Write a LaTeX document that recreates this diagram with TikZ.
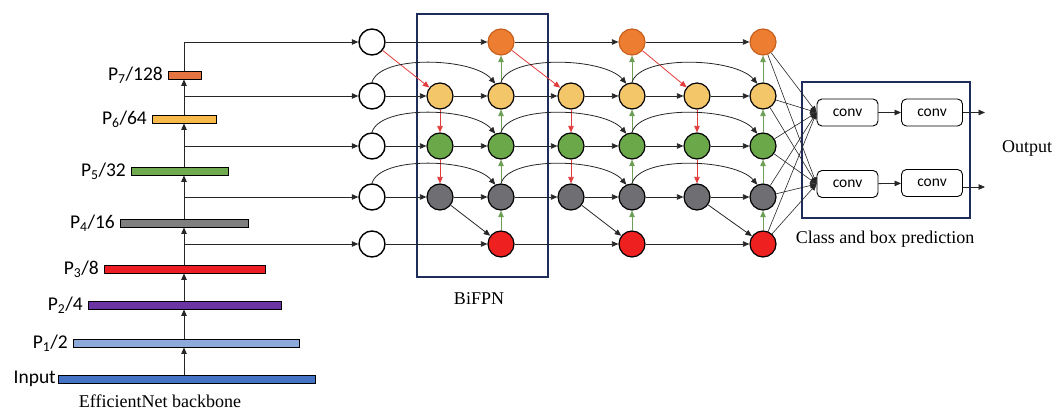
\documentclass[tikz,border=0pt]{standalone}
\usepackage{fontspec}
\setmainfont{Liberation Serif}
\newfontfamily\calfont{Carlito}
\usetikzlibrary{arrows.meta}
\definecolor{cOr}{HTML}{ED7D31}
\definecolor{cOrD}{HTML}{C8601E}
\definecolor{cYe}{HTML}{F4C66A}
\definecolor{cGr}{HTML}{6BA84A}
\definecolor{cGy}{HTML}{6E6E73}
\definecolor{cRe}{HTML}{EE2020}
\definecolor{bOr}{HTML}{E57440}
\definecolor{bYe}{HTML}{F6B94A}
\definecolor{bGr}{HTML}{6FAA4E}
\definecolor{bGy}{HTML}{7F7F7F}
\definecolor{bRe}{HTML}{EE1D23}
\definecolor{bPu}{HTML}{6B36A3}
\definecolor{bLb}{HTML}{8EAADB}
\definecolor{bBl}{HTML}{4472C4}
\definecolor{navy}{HTML}{1F2D5C}
\definecolor{aRe}{HTML}{E23B3B}
\definecolor{aGr}{HTML}{6E9F57}
\tikzset{
  nd/.style={circle, draw=black, line width=1.2pt, minimum size=26pt, inner sep=0pt},
  wn/.style={nd, fill=white, line width=1.4pt},
  on/.style={nd, fill=cOr, draw=cOrD},
  yn/.style={nd, fill=cYe},
  gn/.style={nd, fill=cGr},
  kn/.style={nd, fill=cGy},
  rn/.style={nd, fill=cRe},
  bar/.style={draw=black, line width=0.9pt, minimum height=8pt, inner sep=0pt, anchor=west},
  blab/.style={font=\calfont\fontsize{19.5}{21}\selectfont, anchor=east, inner sep=0pt},
  arr/.style={draw=black!85, line width=0.8pt, -{Triangle[length=6.5pt,width=5.5pt]}},
  thinarr/.style={draw=black!85, line width=0.6pt, -{Triangle[length=6.5pt,width=5.5pt]}},
  redarr/.style={draw=aRe, line width=0.8pt, -{Triangle[length=6.5pt,width=5.5pt]}},
  grarr/.style={draw=aGr, line width=0.9pt, -{Triangle[length=6.5pt,width=5.5pt]}},
  convbox/.style={draw=black, line width=0.9pt, rounded corners=5pt, minimum width=61pt, minimum height=27pt, inner sep=0pt, font=\calfont\fontsize{15.5}{17}\selectfont},
  sertext/.style={font=\fontsize{18}{20}\selectfont, inner sep=0pt},
  fbox/.style={draw=navy, line width=1.2pt}
}
\begin{document}
\begin{tikzpicture}[x=1pt,y=-1pt]
\useasboundingbox (0,0) rectangle (1056,411);
% frames
\draw[fbox] (417,14) rectangle (548,277);
\draw[fbox] (802,82) rectangle (970,218);
% backbone bars
\node[bar, fill=bOr, minimum width=33pt] (b7) at (168,75) {};
\node[bar, fill=bYe, minimum width=64pt] (b6) at (152,119) {};
\node[bar, fill=bGr, minimum width=97pt] (b5) at (131,171) {};
\node[bar, fill=bGy, minimum width=128pt] (b4) at (120,223) {};
\node[bar, fill=bRe, minimum width=161pt] (b3) at (104,269) {};
\node[bar, fill=bPu, minimum width=193pt] (b2) at (88,305) {};
\node[bar, fill=bLb, minimum width=226pt] (b1) at (73,343) {};
\node[bar, fill=bBl, minimum width=257pt] (b0) at (58,379) {};
\node[blab] (l7) at ([xshift=-5pt]b7.west) {P\textsubscript{7}/128};
\node[blab] (l6) at ([xshift=-5pt]b6.west) {P\textsubscript{6}/64};
\node[blab] (l5) at ([xshift=-5pt]b5.west) {P\textsubscript{5}/32};
\node[blab] (l4) at ([xshift=-5pt]b4.west) {P\textsubscript{4}/16};
\node[blab] (l3) at ([xshift=-5pt]b3.west) {P\textsubscript{3}/8};
\node[blab] (l2) at ([xshift=-5pt]b2.west) {P\textsubscript{2}/4};
\node[blab] (l1) at ([xshift=-5pt]b1.west) {P\textsubscript{1}/2};
\node[blab] (l0) at ([xshift=-2pt]b0.west) {Input};
\node[sertext] (effn) at (160,401) {EfficientNet backbone};
\coordinate (spine) at (184,0);
\draw[arr] (spine |- b0.north) -- (spine |- b1.south);
\draw[arr] (spine |- b1.north) -- (spine |- b2.south);
\draw[arr] (spine |- b2.north) -- (spine |- b3.south);
\draw[arr] (spine |- b3.north) -- (spine |- b4.south);
\draw[arr] (spine |- b4.north) -- (spine |- b5.south);
\draw[arr] (spine |- b5.north) -- (spine |- b6.south);
\draw[arr] (spine |- b6.north) -- (spine |- b7.south);
% white input nodes
\node[wn] (w0) at (372,42) {};
\node[wn] (w1) at (372,96) {};
\node[wn] (w2) at (372,146) {};
\node[wn] (w3) at (372,197) {};
\node[wn] (w4) at (372,244) {};
\draw[arr] (spine |- b7.north) -- (spine |- w0) -- (w0);
\draw[arr] (spine |- w1) -- (w1);
\draw[arr] (spine |- w2) -- (w2);
\draw[arr] (spine |- w3) -- (w3);
\draw[arr] (spine |- w4) -- (w4);
% BiFPN nodes
\foreach \i/\x in {1/440,2/501,3/571,4/632,5/697,6/763}{
  \node[yn] (y\i) at (\x,96) {};
  \node[gn] (g\i) at (\x,146) {};
  \node[kn] (k\i) at (\x,197) {};
}
\foreach \i/\x in {2/501,4/632,6/763}{
  \node[on] (o\i) at (\x,42) {};
  \node[rn] (r\i) at (\x,244) {};
}
% horizontal edges
\draw[arr] (w0) -- (o2);
\draw[arr] (o2) -- (o4);
\draw[arr] (o4) -- (o6);
\draw[arr] (w4) -- (r2);
\draw[arr] (r2) -- (r4);
\draw[arr] (r4) -- (r6);
\foreach \r/\w in {y/w1,g/w2,k/w3}{
  \draw[arr] (\w) -- (\r1);
  \foreach \a/\b in {1/2,2/3,3/4,4/5,5/6}{
    \draw[arr] (\r\a) -- (\r\b);
  }
}
% top-down path
\draw[redarr] (w0) -- (y1);
\draw[redarr] (o2) -- (y3);
\draw[redarr] (o4) -- (y5);
\foreach \c/\n in {1/2,3/4,5/6}{
  \draw[redarr] (y\c) -- (g\c);
  \draw[redarr] (g\c) -- (k\c);
  \draw[arr] (k\c) -- (r\n);
}
% bottom-up path
\foreach \c in {2,4,6}{
  \draw[grarr] (r\c) -- (k\c);
  \draw[grarr] (k\c) -- (g\c);
  \draw[grarr] (g\c) -- (y\c);
  \draw[grarr] (y\c) -- (o\c);
}
% skip arcs
\foreach \s/\t in {w1/y2,w2/g2,w3/k2,y2/y4,g2/g4,k2/k4,y4/y6,g4/g6,k4/k6}{
  \draw[arr] (\s.north) .. controls +(8,-28) and +(-22,-26) .. (\t.115);
}
% prediction head
\node[convbox] (c1) at (847.5,112.5) {conv};
\node[convbox] (c2) at (932,112.5) {conv};
\node[convbox] (c3) at (847.5,184) {conv};
\node[convbox] (c4) at (932,183) {conv};
\draw[arr] (c1) -- (c2);
\draw[arr] (c3) -- (c4);
\coordinate (e1) at (985,112.5);
\coordinate (e2) at (985,187);
\draw[arr] (c2.east |- e1) -- (e1);
\draw[arr] (c4.east |- e2) -- (e2);
\foreach \n in {o6,y6,g6,k6,r6}{
  \draw[thinarr] (\n) -- (c1.west);
  \draw[thinarr] (\n) -- (c3.west);
}
\node[sertext] (outp) at (1027,148) {Output};
\node[sertext] (cbp) at (885,239) {Class and box prediction};
\node[sertext] (bifpn) at (479,299) {BiFPN};
\end{tikzpicture}
\end{document}
